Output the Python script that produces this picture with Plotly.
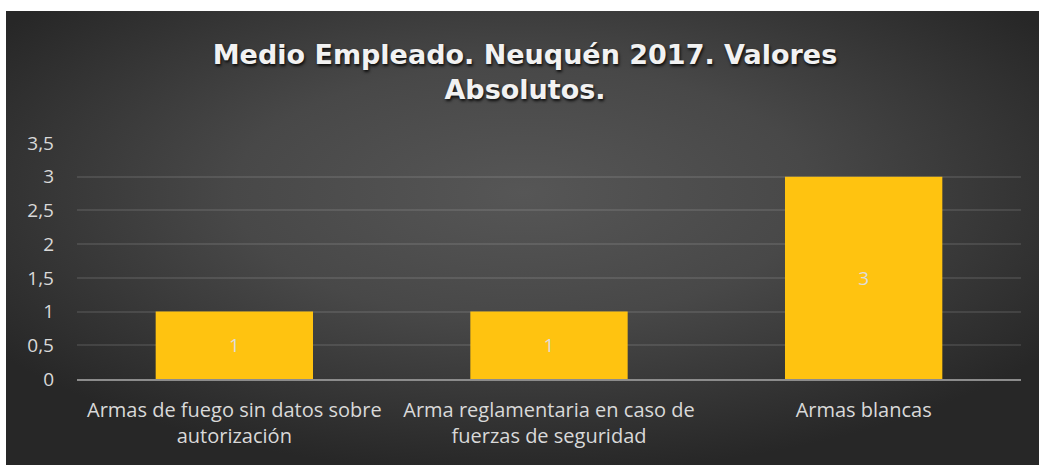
import base64
import plotly.graph_objects as go

categories = [
    "Armas de fuego sin datos sobre<br>autorización",
    "Arma reglamentaria en caso de<br>fuerzas de seguridad",
    "Armas blancas",
]
values = [1, 1, 3]
y_ticks = [0, 0.5, 1, 1.5, 2, 2.5, 3, 3.5]
title_text = "Medio Empleado. Neuquén 2017. Valores<br>Absolutos."

W, H = 1039, 465
L, R, T, B = 77, 18, 143, 86
pw, ph = W - L - R, H - T - B

svg = (
    '<svg xmlns="http://www.w3.org/2000/svg" width="1033" height="454" '
    'viewBox="0 0 1033 454" preserveAspectRatio="none"><defs>'
    '<radialGradient id="g" cx="50%" cy="40%" r="62%">'
    '<stop offset="0" stop-color="#565656"/>'
    '<stop offset="0.45" stop-color="#484848"/>'
    '<stop offset="1" stop-color="#272727"/>'
    '</radialGradient></defs>'
    '<rect width="1033" height="454" fill="url(#g)"/></svg>'
)
src = "data:image/svg+xml;base64," + base64.b64encode(svg.encode()).decode()

bx0 = (6 - L) / pw
bx1 = (W - L) / pw
by1 = (H - B - 11) / ph
by0 = (H - B - H) / ph

fig = go.Figure(
    go.Bar(
        x=categories,
        y=values,
        text=[str(v) for v in values],
        textposition="inside",
        insidetextanchor="middle",
        textfont=dict(family="Open Sans", size=19, color="#DDDDDD"),
        marker=dict(color="#FFC310", line=dict(width=0)),
        width=0.5,
        hoverinfo="skip",
    )
)

fig.update_layout(
    width=W,
    height=H,
    margin=dict(l=L, r=R, t=T, b=B),
    paper_bgcolor="white",
    plot_bgcolor="rgba(0,0,0,0)",
    separators=",.",
    showlegend=False,
    title=dict(
        text=title_text,
        x=(525 - L) / pw,
        xref="paper",
        xanchor="center",
        y=1 - 64 / H,
        yref="container",
        yanchor="middle",
        font=dict(family="DejaVu Sans", size=27, color="#F2F2F2", weight="bold",
                  shadow="1px 2px 3px rgba(0,0,0,0.85)"),
    ),
    images=[
        dict(
            source=src,
            xref="paper",
            yref="paper",
            x=bx0,
            y=by1,
            sizex=bx1 - bx0,
            sizey=by1 - by0,
            xanchor="left",
            yanchor="top",
            sizing="stretch",
            layer="below",
        )
    ],
    xaxis=dict(
        showgrid=False,
        showline=True,
        linecolor="#8C8C8C",
        linewidth=2,
        ticks="",
        tickfont=dict(family="Open Sans", size=20, color="#D9D9D9"),
        ticklabelstandoff=12,
        fixedrange=True,
    ),
    yaxis=dict(
        range=[0, 3.5],
        tickvals=y_ticks,
        showgrid=True,
        gridcolor="rgba(255,255,255,0.10)",
        gridwidth=2,
        zeroline=False,
        ticks="",
        tickfont=dict(family="Open Sans", size=19, color="#D9D9D9"),
        ticklabelstandoff=22,
        fixedrange=True,
    ),
)

fig.write_html(
    "out.html",
    config={"displayModeBar": False},
    post_script="document.body.style.margin='0';document.body.style.overflow='hidden';",
)
